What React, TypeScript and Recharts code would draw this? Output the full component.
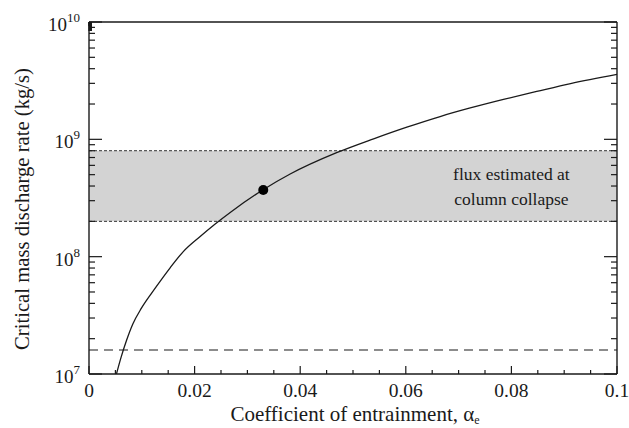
import React from "react";
import {
    LineChart, Line, XAxis, YAxis, ReferenceArea, ReferenceLine, ReferenceDot, Label,
} from "recharts";

const FONT = "Liberation Serif, serif";
const INK = "#1a1a1a";

// curve: critical mass discharge rate vs entrainment coefficient
const alphaValues = [0.0052, 0.0061, 0.0071, 0.0083, 0.0099, 0.0118, 0.0135, 0.0154, 0.0179, 0.021, 0.0239, 0.027, 0.0329, 0.0381, 0.0469, 0.0539, 0.0602, 0.0665, 0.0722, 0.0785, 0.0848, 0.0912, 0.1];
const fluxValues = [1.0e7, 1.4e7, 1.93e7, 2.67e7, 3.62e7, 4.85e7, 6.2e7, 8.08e7, 1.11e8, 1.48e8, 1.9e8, 2.43e8, 3.7e8, 5.06e8, 7.69e8, 1.01e9, 1.27e9, 1.565e9, 1.85e9, 2.19e9, 2.56e9, 2.99e9, 3.58e9];

const bandLow = 2e8;
const bandHigh = 8e8;
const thresholdFlux = 1.6e7;
const collapseAlpha = 0.033;
const collapseFlux = 3.7e8;
const bandText = ["flux estimated at", "column collapse"];

const xTicks = [0, 0.005, 0.01, 0.015, 0.02, 0.025, 0.03, 0.035, 0.04, 0.045, 0.05, 0.055, 0.06, 0.065, 0.07, 0.075, 0.08, 0.085, 0.09, 0.095, 0.1];
const xLabelTicks = [0, 0.02, 0.04, 0.06, 0.08, 0.1];
const xLabels = ["0", "0.02", "0.04", "0.06", "0.08", "0.1"];

const yDecades = [1e7, 1e8, 1e9, 1e10];
const yExponents = ["7", "8", "9", "10"];
const yMinorSteps = [2, 3, 4, 5, 6, 7, 8, 9];
const yTicks: number[] = [];
yDecades.forEach((d, i) => {
    yTicks.push(d);
    if (i < yDecades.length - 1) yMinorSteps.forEach((m) => yTicks.push(m * d));
});

const data = alphaValues.map((a, i) => ({ alpha: a, flux: fluxValues[i] }));

const xLabelIndex = (v: number) => xLabelTicks.findIndex((t) => Math.abs(t - v) < 1e-9);
const yDecadeIndex = (v: number) => yDecades.findIndex((d) => Math.abs(d - v) / d < 1e-6);

function BottomTick({ x, y, payload }: any) {
    const i = xLabelIndex(payload.value);
    const major = i >= 0;
    return (
        <g>
            <line x1={x} x2={x} y1={y} y2={y - (major ? 8 : 4)} stroke={INK} strokeWidth={1.2} />
            {major && (
                <text x={x} y={y + 23} textAnchor="middle" fontFamily={FONT} fontSize={19.5} fill={INK}>
                    {xLabels[i]}
                </text>
            )}
        </g>
    );
}

function TopTick({ x, y, payload }: any) {
    const major = xLabelIndex(payload.value) >= 0;
    return <line x1={x} x2={x} y1={y} y2={y + (major ? 9 : 4)} stroke={INK} strokeWidth={1.2} />;
}

function LeftTick({ x, y, payload }: any) {
    const i = yDecadeIndex(payload.value);
    const major = i >= 0;
    return (
        <g>
            <line x1={x} x2={x + (major ? 13 : 6)} y1={y} y2={y} stroke={INK} strokeWidth={1.2} />
            {major && (
                <text x={x - 9} y={y + 9} textAnchor="end" fontFamily={FONT} fontSize={19} fill={INK}>
                    <tspan>10</tspan>
                    <tspan dy={-9} fontSize={13}>{yExponents[i]}</tspan>
                </text>
            )}
        </g>
    );
}

function RightTick({ x, y, payload }: any) {
    const major = yDecadeIndex(payload.value) >= 0;
    return <line x1={x} x2={x - (major ? 13 : 6)} y1={y} y2={y} stroke={INK} strokeWidth={1.2} />;
}

function XTitle({ viewBox }: any) {
    const cx = viewBox.x + viewBox.width / 2 + 2;
    return (
        <text x={cx} y={viewBox.y + 47} textAnchor="middle" fontFamily={FONT} fontSize={21} fill={INK}>
            <tspan>Coefficient of entrainment, α</tspan>
            <tspan dy={3} fontSize={12}>e</tspan>
        </text>
    );
}

function YTitle() {
    const cx = 22;
    const cy = 209;
    return (
        <text
            x={cx}
            y={cy}
            transform={`rotate(-90, ${cx}, ${cy})`}
            textAnchor="middle"
            dominantBaseline="central"
            fontFamily={FONT}
            fontSize={20.5}
            textLength={282}
            lengthAdjust="spacingAndGlyphs"
            fill={INK}
        >
            Critical mass discharge rate (kg/s)
        </text>
    );
}

function BandText({ viewBox }: any) {
    const cx = viewBox.x + viewBox.width * 0.8;
    const cy = viewBox.y + viewBox.height / 2;
    return (
        <text textAnchor="middle" fontFamily={FONT} fontSize={17.5} fill={INK}>
            <tspan x={cx} y={cy - 6}>{bandText[0]}</tspan>
            <tspan x={cx} y={cy + 19}>{bandText[1]}</tspan>
        </text>
    );
}

export default function App() {
    return (
        <div style={{ position: "absolute", left: 0, top: 0, background: "#fff" }}>
            <LineChart width={629} height={428} data={data} margin={{ top: 0, right: 0, bottom: 0, left: 0 }}>
                <XAxis
                    dataKey="alpha"
                    type="number"
                    domain={[0, 0.1]}
                    ticks={xTicks}
                    interval={0}
                    height={54}
                    tickSize={0}
                    tickMargin={0}
                    tickLine={false}
                    axisLine={{ stroke: INK, strokeWidth: 1.4 }}
                    tick={(p: any) => <BottomTick {...p} />}
                    allowDataOverflow
                >
                    <Label content={(p: any) => <XTitle {...p} />} />
                </XAxis>
                <XAxis
                    xAxisId="top"
                    orientation="top"
                    type="number"
                    domain={[0, 0.1]}
                    ticks={xTicks}
                    interval={0}
                    height={22}
                    tickSize={0}
                    tickMargin={0}
                    tickLine={false}
                    axisLine={{ stroke: INK, strokeWidth: 1.4 }}
                    tick={(p: any) => <TopTick {...p} />}
                    allowDataOverflow
                />
                <YAxis
                    type="number"
                    scale="log"
                    domain={[1e7, 1e10]}
                    ticks={yTicks}
                    interval={0}
                    width={89}
                    tickSize={0}
                    tickMargin={0}
                    tickLine={false}
                    axisLine={{ stroke: INK, strokeWidth: 1.4 }}
                    tick={(p: any) => <LeftTick {...p} />}
                    allowDataOverflow
                >
                    <Label content={() => <YTitle />} />
                </YAxis>
                <YAxis
                    yAxisId="right"
                    orientation="right"
                    type="number"
                    scale="log"
                    domain={[1e7, 1e10]}
                    ticks={yTicks}
                    interval={0}
                    width={12}
                    tickSize={0}
                    tickMargin={0}
                    tickLine={false}
                    axisLine={{ stroke: INK, strokeWidth: 1.4 }}
                    tick={(p: any) => <RightTick {...p} />}
                    allowDataOverflow
                />
                <ReferenceArea y1={bandLow} y2={bandHigh} fill="#d3d3d3" fillOpacity={1} stroke="none">
                    <Label content={(p: any) => <BandText {...p} />} />
                </ReferenceArea>
                <ReferenceLine y={bandHigh} stroke="#333" strokeWidth={1} strokeDasharray="3 2" />
                <ReferenceLine y={bandLow} stroke="#333" strokeWidth={1} strokeDasharray="3 2" />
                <ReferenceLine y={thresholdFlux} stroke={INK} strokeWidth={1.1} strokeDasharray="9 6" />
                <Line
                    type="monotone"
                    dataKey="flux"
                    stroke={INK}
                    strokeWidth={1.3}
                    dot={false}
                    isAnimationActive={false}
                />
                <ReferenceDot x={collapseAlpha} y={collapseFlux} r={5} fill="#000" stroke="none" />
            </LineChart>
        </div>
    );
}
